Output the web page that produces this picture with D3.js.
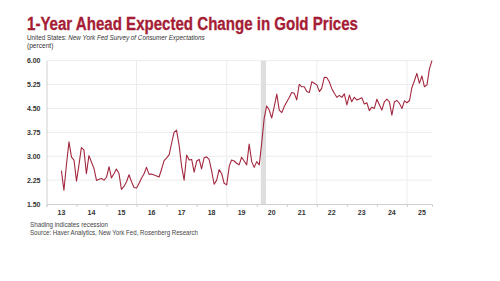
<!DOCTYPE html>
<html>
<head>
<meta charset="utf-8">
<script src="https://cdn.jsdelivr.net/npm/d3@7"></script>
<style>
  body { margin: 0; background: #fff; }
  svg { display: block; font-family: "Liberation Sans", Arial, sans-serif; }
</style>
</head>
<body>
<svg width="500" height="281"></svg>
<script>
// monthly series, Jun 2013 .. Oct 2025 (percent)
var startMonth = new Date(2013, 5, 1);
var goldExp = [
  2.55, 1.93, 2.75, 3.45, 2.97, 2.88, 2.22, 2.75, 3.27, 3.20, 2.45, 3.02,
  2.82, 2.62, 2.24, 2.28, 2.30, 2.25, 2.34, 2.67, 2.32, 2.45, 2.60, 2.46,
  1.96, 2.05, 2.20, 2.42, 2.20, 2.02, 2.00, 2.15, 2.31, 2.45, 2.65, 2.43,
  2.44, 2.41, 2.38, 2.35, 2.60, 2.86, 2.95, 3.05, 3.40, 3.75, 3.82, 3.35,
  2.70, 2.25, 3.04, 2.88, 2.90, 2.50, 2.85, 2.90, 2.60, 2.95, 2.98, 2.90,
  2.55, 2.12, 2.25, 2.58, 2.45, 2.15, 2.10, 2.69, 2.88, 2.85, 2.78, 2.73,
  2.97, 2.85, 2.73, 3.38, 2.83, 2.65, 2.83, 2.73, 3.40, 4.20, 4.58, 4.45,
  4.20, 4.56, 4.95, 4.45, 4.37, 4.56, 4.71, 4.85, 5.00, 4.98, 4.77, 5.26,
  5.18, 5.18, 5.03, 5.00, 5.34, 5.29, 5.24, 5.03, 5.13, 5.48, 5.47, 5.34,
  5.13, 4.98, 4.85, 4.91, 4.85, 4.96, 4.61, 4.92, 4.71, 4.85, 4.77, 4.80,
  4.84, 4.64, 4.68, 4.43, 4.54, 4.50, 4.79, 4.61, 4.45, 4.71, 4.79, 4.71,
  4.29, 4.71, 4.75, 4.66, 4.50, 4.74, 4.68, 4.75, 5.15, 5.37, 5.60, 5.29,
  5.52, 5.18, 5.24, 5.75, 6.00
];
var yTicks = [1.5, 2.25, 3.0, 3.75, 4.5, 5.25, 6.0];
var yearLabels = ["13", "14", "15", "16", "17", "18", "19", "20", "21", "22", "23", "24", "25"];
var gridYears = [2016, 2019, 2022, 2025];
var recessions = [[new Date(2020, 1, 20), new Date(2020, 3, 22)]];

var data = goldExp.map(function(v, i) {
  // plotted at month end
  return { date: new Date(startMonth.getFullYear(), startMonth.getMonth() + i + 1, 1), value: v };
});

var svg = d3.select("svg"),
    plotL = 46.5, plotR = 432, plotT = 60.7, plotB = 204;

var x = d3.scaleTime()
  .domain([new Date(2013, 0, 1), new Date(2025, 10, 1)])
  .range([plotL, plotR]);
var y = d3.scaleLinear().domain([1.5, 6]).range([plotB, plotT]);

// title block
svg.append("text")
  .attr("x", 27).attr("y", 29.5)
  .attr("fill", "#a51d35")
  .attr("font-size", "17.5px")
  .attr("font-weight", "bold")
  .attr("stroke", "#a51d35")
  .attr("stroke-width", 0.3)
  .attr("textLength", 331)
  .attr("lengthAdjust", "spacingAndGlyphs")
  .text("1-Year Ahead Expected Change in Gold Prices");

var sub = svg.append("text")
  .attr("x", 27).attr("y", 39.5)
  .attr("fill", "#333")
  .attr("font-size", "6.3px");
sub.append("tspan").text("United States: ");
sub.append("tspan").attr("font-style", "italic").text("New York Fed Survey of Consumer Expectations");

svg.append("text")
  .attr("x", 27).attr("y", 47.5)
  .attr("fill", "#333")
  .attr("font-size", "6.6px")
  .text("(percent)");

// gridlines
svg.append("g").selectAll("line")
  .data(yTicks.slice(1))
  .enter().append("line")
  .attr("x1", plotL).attr("x2", plotR)
  .attr("y1", function(d) { return y(d); })
  .attr("y2", function(d) { return y(d); })
  .attr("stroke", "#ececec")
  .attr("stroke-width", 1);

svg.append("g").selectAll("line")
  .data(gridYears)
  .enter().append("line")
  .attr("x1", function(d) { return x(new Date(d, 0, 1)); })
  .attr("x2", function(d) { return x(new Date(d, 0, 1)); })
  .attr("y1", plotT).attr("y2", plotB)
  .attr("stroke", "#ececec")
  .attr("stroke-width", 1);

// recession shading
svg.append("g").selectAll("rect")
  .data(recessions)
  .enter().append("rect")
  .attr("x", function(d) { return x(d[0]); })
  .attr("width", function(d) { return x(d[1]) - x(d[0]); })
  .attr("y", plotT)
  .attr("height", plotB - plotT)
  .attr("fill", "#dedede");

// axes
var yAxis = svg.append("g")
  .attr("transform", "translate(" + plotL + ",0)")
  .call(d3.axisLeft(y).tickValues(yTicks).tickSize(0).tickPadding(6).tickFormat(d3.format(".2f")));
yAxis.select(".domain").attr("stroke", "#d0d0d0");
yAxis.selectAll("text")
  .attr("font-size", "7px")
  .attr("font-weight", "bold")
  .attr("fill", "#333")
  .attr("font-family", "Liberation Sans, Arial, sans-serif");

var xAxis = svg.append("g")
  .attr("transform", "translate(0," + plotB + ")")
  .call(d3.axisBottom(x).ticks(d3.timeYear.every(1)).tickSize(3).tickFormat(""));
xAxis.select(".domain").attr("stroke", "#d0d0d0");
xAxis.selectAll(".tick line").attr("stroke", "#d0d0d0");

svg.append("g").selectAll("text")
  .data(yearLabels)
  .enter().append("text")
  .attr("x", function(d, i) { return x(new Date(2013 + i, 6, 1)); })
  .attr("y", 215)
  .attr("text-anchor", "middle")
  .attr("font-size", "7px")
  .attr("font-weight", "bold")
  .attr("fill", "#333")
  .text(function(d) { return d; });

// series
var line = d3.line()
  .x(function(d) { return x(d.date); })
  .y(function(d) { return y(d.value); });

svg.append("path")
  .datum(data)
  .attr("fill", "none")
  .attr("stroke", "#a3283f")
  .attr("stroke-width", 1.1)
  .attr("stroke-linejoin", "round")
  .attr("d", line);

// notes
svg.append("text")
  .attr("x", 30).attr("y", 227)
  .attr("fill", "#444")
  .attr("font-size", "6.5px")
  .attr("textLength", 78)
  .attr("lengthAdjust", "spacingAndGlyphs")
  .text("Shading indicates recession");
svg.append("text")
  .attr("x", 30).attr("y", 235)
  .attr("fill", "#444")
  .attr("font-size", "6.5px")
  .attr("textLength", 168)
  .attr("lengthAdjust", "spacingAndGlyphs")
  .text("Source: Haver Analytics, New York Fed, Rosenberg Research");
</script>
</body>
</html>
